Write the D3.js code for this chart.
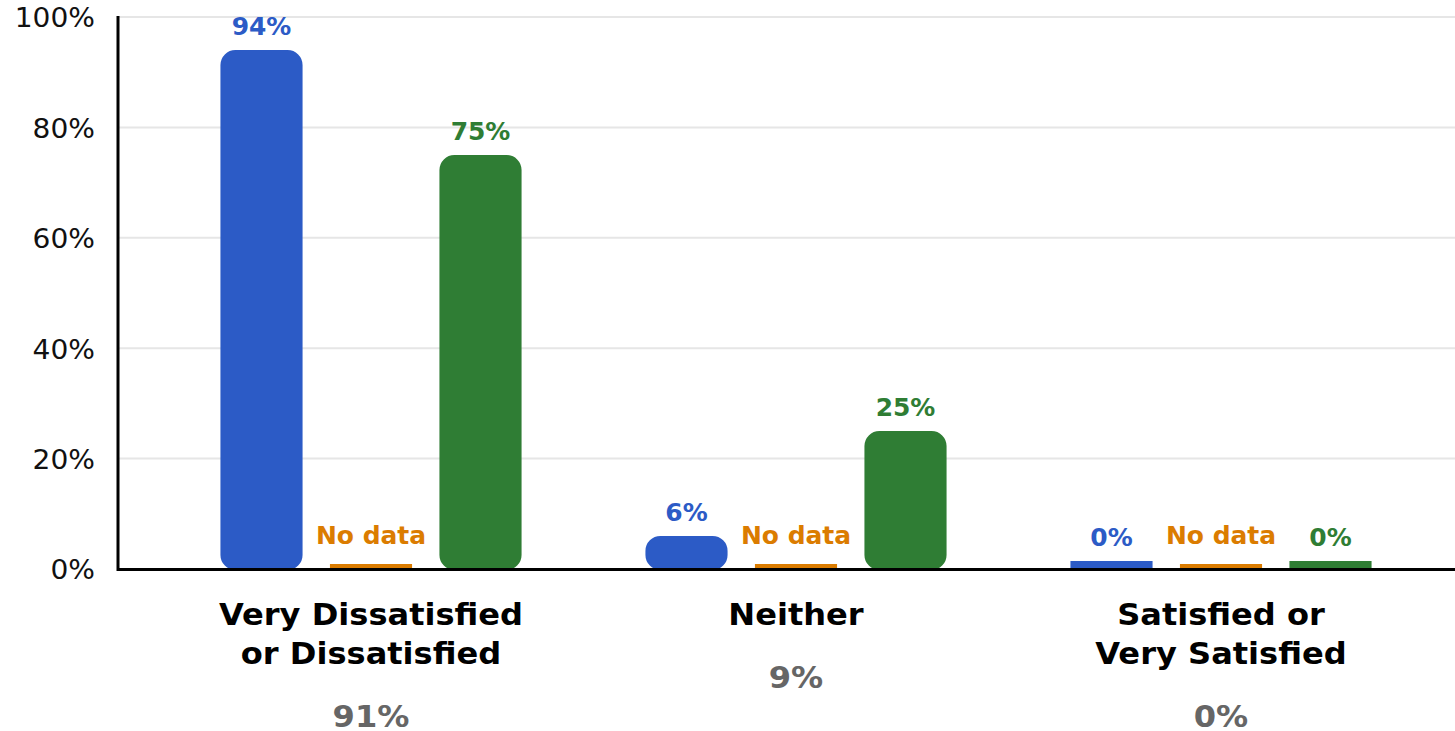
<!DOCTYPE html>
<html>
<head>
<meta charset="utf-8">
<script src="https://cdn.jsdelivr.net/npm/d3@7"></script>
<style>
  body { margin: 0; background: #fff; }
  text { font-family: "DejaVu Sans", sans-serif; }
</style>
</head>
<body>
<svg id="chart"></svg>
<script>
// data
const categories = [
  ["Very Dissatisfied", "or Dissatisfied"],
  ["Neither"],
  ["Satisfied or", "Very Satisfied"]
];
const categoryTotals = ["91%", "9%", "0%"];
const seriesKeys = ["blue", "orange", "green"];
const blueValues = [94, 6, 0];
const orangeValues = [null, null, null]; // no data
const greenValues = [75, 25, 0];
const yTicks = [0, 20, 40, 60, 80, 100];

const colors = { blue: "#2c5bc6", orange: "#db7c00", green: "#2f7d34" };

const width = 1455, height = 731;
const svg = d3.select("#chart").attr("width", width).attr("height", height);

const y = d3.scaleLinear().domain([0, 100]).range([569, 17]);
const x0 = d3.scaleBand().domain(d3.range(categories.length)).range([158.5, 1433.5]);
const x1 = d3.scaleBand().domain(seriesKeys)
  .range([-164.25, 164.25]).paddingInner(0.25).paddingOuter(0.125);

// text in the original is a bit wider than DejaVu renders here
const wide = (px, py, s) => `translate(${px},${py}) scale(${s},1)`;

// gridlines
svg.append("g").selectAll("line")
  .data(yTicks.filter(d => d > 0))
  .enter().append("line")
  .attr("x1", 118).attr("x2", width)
  .attr("y1", d => y(d)).attr("y2", d => y(d))
  .attr("stroke", "#e6e6e6").attr("stroke-width", 2);

// y tick labels
svg.append("g").selectAll("text")
  .data(yTicks)
  .enter().append("text")
  .attr("transform", d => wide(95, y(d) + 1, 1.08))
  .attr("dy", "0.36em")
  .attr("text-anchor", "end")
  .attr("font-size", 26)
  .attr("fill", "#111")
  .text(d => d + "%");

// build rows
const rows = categories.map((c, i) => ({
  i,
  bars: [
    { key: "blue", v: blueValues[i] },
    { key: "orange", v: orangeValues[i] },
    { key: "green", v: greenValues[i] }
  ]
}));

function roundedBar(x, top, w, bottom, r) {
  const h = bottom - top;
  r = Math.min(r, h / 2, w / 2);
  return `M${x},${top + r}` +
    `A${r},${r} 0 0 1 ${x + r},${top}` +
    `H${x + w - r}` +
    `A${r},${r} 0 0 1 ${x + w},${top + r}` +
    `V${bottom - r}` +
    `A${r},${r} 0 0 1 ${x + w - r},${bottom}` +
    `H${x + r}` +
    `A${r},${r} 0 0 1 ${x},${bottom - r}Z`;
}

const groups = svg.append("g").selectAll("g")
  .data(rows)
  .enter().append("g")
  .attr("transform", d => `translate(${x0(d.i) + x0.bandwidth() / 2},0)`);

const bw = x1.bandwidth();

groups.selectAll("path")
  .data(d => d.bars)
  .enter().append("path")
  .attr("fill", d => colors[d.key])
  .attr("d", d => {
    const bx = x1(d.key);
    if (d.v == null) return `M${bx},${y(0) - 5}h${bw}v5h${-bw}Z`;
    if (d.v === 0) return `M${bx},${y(0) - 8}h${bw}v8h${-bw}Z`;
    return roundedBar(bx, y(d.v), bw, y(0) + 1, 15);
  });

// value labels
groups.selectAll("text.val")
  .data(d => d.bars)
  .enter().append("text")
  .attr("class", "val")
  .attr("transform", d => {
    let ty;
    if (d.v == null) ty = y(0) - 25;
    else if (d.v === 0) ty = y(0) - 8 - 15;
    else ty = y(d.v) - 15;
    return wide(x1(d.key) + bw / 2, ty, 1.04);
  })
  .attr("text-anchor", "middle")
  .attr("font-size", 24)
  .attr("font-weight", "bold")
  .attr("fill", d => colors[d.key])
  .text(d => d.v == null ? "No data" : d.v + "%");

// category labels
groups.each(function (d) {
  const g = d3.select(this);
  const lines = categories[d.i];
  lines.forEach((ln, k) => {
    g.append("text")
      .attr("transform", wide(0, 625 + k * 39, 1.07))
      .attr("text-anchor", "middle")
      .attr("font-size", 30)
      .attr("font-weight", "bold")
      .attr("fill", "#000")
      .text(ln);
  });
  g.append("text")
    .attr("transform", wide(0, 625 + (lines.length - 1) * 39 + 63, 1.07))
    .attr("text-anchor", "middle")
    .attr("font-size", 30)
    .attr("font-weight", "bold")
    .attr("fill", "#666")
    .text(categoryTotals[d.i]);
});

// axes
svg.append("line")
  .attr("x1", 118).attr("x2", 118).attr("y1", 16).attr("y2", 571)
  .attr("stroke", "#000").attr("stroke-width", 3);
svg.append("line")
  .attr("x1", 117).attr("x2", width).attr("y1", 569.5).attr("y2", 569.5)
  .attr("stroke", "#000").attr("stroke-width", 3);
</script>
</body>
</html>
